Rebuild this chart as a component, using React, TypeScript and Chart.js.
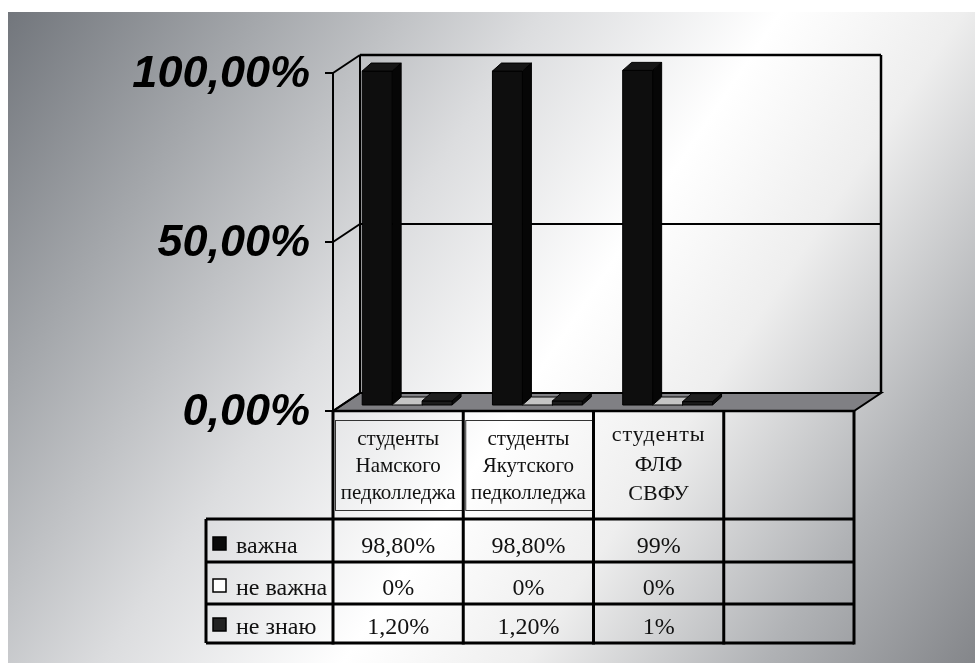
import React, { useEffect, useRef } from "react";
import { Chart, registerables } from "chart.js";

Chart.register(...registerables);

// ---- data ----
const categories: string[][] = [
  ["студенты", "Намского", "педколледжа"],
  ["студенты", "Якутского", "педколледжа"],
  ["студенты", "ФЛФ", "СВФУ"],
  [],
];
const seriesNames = ["важна", "не важна", "не знаю"];
const vazhna = [0.988, 0.988, 0.99, null];
const neVazhna = [0, 0, 0, null];
const neZnayu = [0.012, 0.012, 0.01, null];
const vazhnaLabels = ["98,80%", "98,80%", "99%", ""];
const neVazhnaLabels = ["0%", "0%", "0%", ""];
const neZnayuLabels = ["1,20%", "1,20%", "1%", ""];
const yTickValues = [0, 0.5, 1];
const yTickLabels = ["0,00%", "50,00%", "100,00%"];

// ---- styles ----
const W = 975;
const H = 663;
const DEPTH = { x: 27, y: -18 };
const BAR_OFF = { x: 9, y: -6 };
const BAR_DEPTH = { x: 9, y: -8 };
const barStyles = [
  { front: "#0e0e0e", top: "#161616", side: "#060606", legend: "#0a0a0a" },
  { front: "#ffffff", top: "#c4c4c4", side: "#e0e0e0", legend: "#ffffff" },
  { front: "#1c1c1c", top: "#202020", side: "#0c0c0c", legend: "#222222" },
];
const SERIF = '"Liberation Serif", "Times New Roman", serif';
const ROW_LINES = [519, 562, 604, 643];
const TABLE_LEFT = 206;

function poly(ctx: CanvasRenderingContext2D, pts: number[][], fill: string | null, stroke: string | null, lw = 1) {
  ctx.beginPath();
  ctx.moveTo(pts[0][0], pts[0][1]);
  for (let i = 1; i < pts.length; i++) ctx.lineTo(pts[i][0], pts[i][1]);
  ctx.closePath();
  if (fill) {
    ctx.fillStyle = fill;
    ctx.fill();
  }
  if (stroke) {
    ctx.strokeStyle = stroke;
    ctx.lineWidth = lw;
    ctx.stroke();
  }
}

function line(ctx: CanvasRenderingContext2D, x1: number, y1: number, x2: number, y2: number, lw: number) {
  ctx.beginPath();
  ctx.moveTo(x1, y1);
  ctx.lineTo(x2, y2);
  ctx.strokeStyle = "#000";
  ctx.lineWidth = lw;
  ctx.stroke();
}

const excel3d = {
  id: "excel3d",
  beforeDraw(chart: any) {
    const ctx: CanvasRenderingContext2D = chart.ctx;
    ctx.save();
    ctx.fillStyle = "#ffffff";
    ctx.fillRect(0, 0, W, H);
    const g = ctx.createLinearGradient(8, 12, W, H);
    g.addColorStop(0, "#72767c");
    g.addColorStop(0.18, "#a4a7ab");
    g.addColorStop(0.38, "#dcdddf");
    g.addColorStop(0.55, "#ffffff");
    g.addColorStop(0.68, "#eeeeee");
    g.addColorStop(0.85, "#b0b2b5");
    g.addColorStop(1, "#84868a");
    ctx.fillStyle = g;
    ctx.fillRect(8, 12, W - 8, H - 12);
    ctx.restore();
  },
  beforeDatasetsDraw(chart: any) {
    const ctx: CanvasRenderingContext2D = chart.ctx;
    const y = chart.scales.y;
    const x = chart.scales.x;
    const L = x.left;
    const R = x.right;
    const y0 = y.getPixelForValue(0);
    const yMax = y.getPixelForValue(1);
    ctx.save();
    // floor
    poly(
      ctx,
      [
        [L, y0],
        [R, y0],
        [R + DEPTH.x, y0 + DEPTH.y],
        [L + DEPTH.x, y0 + DEPTH.y],
      ],
      "#808084",
      "#000",
      2
    );
    // back wall & side wall lines
    line(ctx, L + DEPTH.x, yMax + DEPTH.y, R + DEPTH.x, yMax + DEPTH.y, 2.5);
    line(ctx, L + DEPTH.x, yMax + DEPTH.y, L + DEPTH.x, y0 + DEPTH.y, 2);
    line(ctx, R + DEPTH.x, yMax + DEPTH.y, R + DEPTH.x, y0 + DEPTH.y, 2.5);
    // gridlines + ticks + labels
    yTickValues.forEach((v, i) => {
      const py = y.getPixelForValue(v);
      if (v > 0 && v < 1) line(ctx, L + DEPTH.x, py + DEPTH.y, R + DEPTH.x, py + DEPTH.y, 2);
      line(ctx, L, py, L + DEPTH.x, py + DEPTH.y, 2);
      line(ctx, L - 8, py, L, py, 2);
      ctx.fillStyle = "#000";
      ctx.font = 'italic bold 45px "Liberation Sans", Arial, sans-serif';
      ctx.textAlign = "right";
      ctx.textBaseline = "middle";
      ctx.fillText(yTickLabels[i], 310, py + 2);
    });
    // front axis
    line(ctx, L, yMax, L, y0, 2);
    line(ctx, L, y0, R, y0, 2.5);
    ctx.restore();
  },
  afterDatasetsDraw(chart: any) {
    const ctx: CanvasRenderingContext2D = chart.ctx;
    const x = chart.scales.x;
    const y = chart.scales.y;
    const n = categories.length;
    ctx.save();
    // 3D bars
    for (let c = 0; c < n; c++) {
      chart.data.datasets.forEach((ds: any, d: number) => {
        if (ds.data[c] == null) return;
        const el = chart.getDatasetMeta(d).data[c];
        const p = el.getProps(["x", "y", "base", "width"], true);
        const left = p.x - p.width / 2 + BAR_OFF.x;
        const right = p.x + p.width / 2 + BAR_OFF.x;
        const top = p.y + BAR_OFF.y;
        const bottom = p.base + BAR_OFF.y;
        const s = barStyles[d];
        // side
        poly(
          ctx,
          [
            [right, top],
            [right + BAR_DEPTH.x, top + BAR_DEPTH.y],
            [right + BAR_DEPTH.x, bottom + BAR_DEPTH.y],
            [right, bottom],
          ],
          s.side,
          "#000",
          1
        );
        // front
        if (bottom - top > 0.5) {
          poly(
            ctx,
            [
              [left, top],
              [right, top],
              [right, bottom],
              [left, bottom],
            ],
            s.front,
            "#000",
            1
          );
        }
        // top
        poly(
          ctx,
          [
            [left, top],
            [left + BAR_DEPTH.x, top + BAR_DEPTH.y],
            [right + BAR_DEPTH.x, top + BAR_DEPTH.y],
            [right, top],
          ],
          s.top,
          "#000",
          1
        );
      });
    }

    // data table
    const colW = (x.right - x.left) / n;
    const headTop = y.getPixelForValue(0);
    const tableBottom = ROW_LINES[ROW_LINES.length - 1];
    ctx.fillStyle = "#111";
    // header boxes and labels
    for (let c = 0; c < n; c++) {
      const cx = x.getPixelForValue(c);
      const lines = categories[c];
      const boxed = c < 2;
      if (boxed && lines.length) {
        ctx.strokeStyle = "#333";
        ctx.lineWidth = 1;
        ctx.strokeRect(x.left + c * colW + 2.5, 420.5, colW - 3, 90);
      }
      ctx.textAlign = "center";
      ctx.textBaseline = "alphabetic";
      ctx.fillStyle = "#111";
      const baselines = boxed ? [445, 472, 499] : [441, 471, 500];
      ctx.font = (boxed ? "21px " : "22px ") + SERIF;
      lines.forEach((t, i) => {
        (ctx as any).letterSpacing = !boxed && i === 0 ? "1px" : "0px";
        ctx.fillText(t, cx, baselines[i]);
      });
      (ctx as any).letterSpacing = "0px";
    }
    // rows
    const rowLabels = [vazhnaLabels, neVazhnaLabels, neZnayuLabels];
    ctx.font = "24px " + SERIF;
    for (let r = 0; r < seriesNames.length; r++) {
      const base = ROW_LINES[r + 1] - 9;
      // legend key
      const s = barStyles[r];
      ctx.fillStyle = s.legend;
      ctx.fillRect(213, base - 16, 13, 13);
      ctx.strokeStyle = "#000";
      ctx.lineWidth = 1.5;
      ctx.strokeRect(213, base - 16, 13, 13);
      ctx.fillStyle = "#111";
      ctx.textAlign = "left";
      ctx.fillText(seriesNames[r], 236, base);
      ctx.textAlign = "center";
      for (let c = 0; c < n; c++) {
        const t = rowLabels[r][c];
        if (t) ctx.fillText(t, x.getPixelForValue(c), base);
      }
    }
    // table lines
    ROW_LINES.forEach((ly) => line(ctx, TABLE_LEFT, ly, x.right, ly, 3));
    line(ctx, TABLE_LEFT, ROW_LINES[0], TABLE_LEFT, tableBottom, 3);
    for (let c = 0; c <= n; c++) {
      const lx = x.left + c * colW;
      line(ctx, lx, headTop, lx, tableBottom + 1.5, 3);
    }
    ctx.restore();
  },
};

export default function App() {
  const ref = useRef<HTMLCanvasElement | null>(null);
  useEffect(() => {
    if (!ref.current) return;
    const chart = new Chart(ref.current, {
      type: "bar",
      data: {
        labels: categories,
        datasets: [
          { label: seriesNames[0], data: vazhna, backgroundColor: "rgba(0,0,0,0)", borderWidth: 0 },
          { label: seriesNames[1], data: neVazhna, backgroundColor: "rgba(0,0,0,0)", borderWidth: 0 },
          { label: seriesNames[2], data: neZnayu, backgroundColor: "rgba(0,0,0,0)", borderWidth: 0 },
        ],
      },
      options: {
        responsive: false,
        animation: false,
        devicePixelRatio: 1,
        layout: { padding: { left: 333, right: 121, top: 73, bottom: 252 } },
        datasets: { bar: { categoryPercentage: 0.69, barPercentage: 1 } },
        plugins: { legend: { display: false }, tooltip: { enabled: false } },
        scales: {
          x: { display: false, offset: true },
          y: { display: false, min: 0, max: 1, ticks: { stepSize: 0.5 } },
        },
      },
      plugins: [excel3d],
    } as any);
    return () => chart.destroy();
  }, []);
  return (
    <div style={{ position: "fixed", left: 0, top: 0, width: W, height: H }}>
      <canvas ref={ref} width={W} height={H} style={{ display: "block", width: W, height: H }} />
    </div>
  );
}
